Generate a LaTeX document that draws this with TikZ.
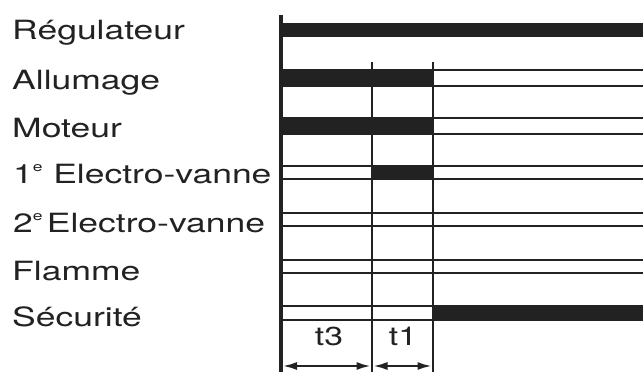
\documentclass[tikz,border=0pt]{standalone}
\usepackage{fontspec}
\setmainfont{TeX Gyre Heros}
\usetikzlibrary{arrows.meta}
\definecolor{ink}{HTML}{222222}
\tikzset{
 lbl/.style={anchor=base west, inner sep=0pt, font=\fontsize{26.5}{30}\selectfont, text=ink},
 tlbl/.style={anchor=base, inner sep=0pt, font=\fontsize{26}{30}\selectfont, text=ink},
 rail/.style={draw=ink, line width=2.4pt},
 bar/.style={fill=ink},
 vline/.style={draw=ink, line width=2.6pt},
 dimarrow/.style={draw=ink, line width=2pt, {Latex[length=14pt,width=8pt]}-{Latex[length=14pt,width=8pt]}},
}
\newcommand\wideText[1]{\scalebox{1.34}[1]{#1}}
\newcommand\supE{\raisebox{0.42em}{\fontsize{13}{13}\selectfont e}}
\begin{document}
\begin{tikzpicture}[x=1pt,y=-1pt]
\useasboundingbox (0,0) rectangle (643,372);
% labels
\node[lbl] (reg) at (12,39) {\wideText{Régulateur}};
\node[lbl] (all) at (12,89) {\wideText{Allumage}};
\node[lbl] (mot) at (12,137) {\wideText{Moteur}};
\node[lbl] (ev1) at (13,183) {\wideText{1\supE\hspace{0.3em}Electro-vanne}};
\node[lbl] (ev2) at (13,232) {\wideText{2\supE\hspace{0.12em}Electro-vanne}};
\node[lbl] (fla) at (12,280) {\wideText{Flamme}};
\node[lbl] (sec) at (12,326) {\wideText{Sécurité}};
% Regulateur
\fill[bar] (281,23) rectangle (643,37);
% Allumage
\fill[bar] (281,69) rectangle (433,87);
\draw[rail] (433,70) -- (643,70);
\draw[rail] (433,86) -- (643,86);
% Moteur
\fill[bar] (281,117) rectangle (433,135);
\draw[rail] (433,118) -- (643,118);
\draw[rail] (433,134) -- (643,134);
% 1e Electro-vanne
\draw[rail] (281,166) -- (643,166);
\draw[rail] (281,179) -- (643,179);
\fill[bar] (372,165) rectangle (433,180);
% 2e Electro-vanne
\draw[rail] (281,213) -- (643,213);
\draw[rail] (281,226) -- (643,226);
% Flamme
\draw[rail] (281,260) -- (643,260);
\draw[rail] (281,273) -- (643,273);
% Securite
\draw[rail] (281,306) -- (643,306);
\draw[rail] (281,320) -- (643,320);
\fill[bar] (433,305) rectangle (643,321);
% verticals
\draw[vline, line width=3.2pt] (281,15) -- (281,372);
\draw[vline] (372,62) -- (372,372);
\draw[vline] (433,62) -- (433,372);
% dimensions
\coordinate (a0) at (283,366);
\coordinate (a1) at (370.5,366);
\coordinate (b0) at (373.5,366);
\coordinate (b1) at (431.5,366);
\draw[dimarrow] (a0) -- (a1);
\draw[dimarrow] (b0) -- (b1);
\node[tlbl] (t3) at (329,345) {\scalebox{1.3}[1]{t3}};
\node[tlbl] (t1) at (403,345) {\scalebox{1.3}[1]{t1}};
\end{tikzpicture}
\end{document}
